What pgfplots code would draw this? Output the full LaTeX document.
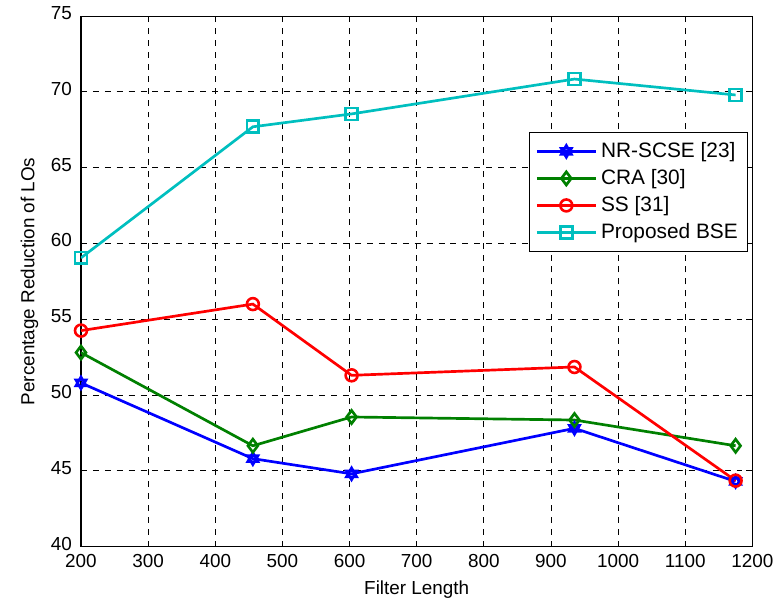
\documentclass[border=0pt]{standalone}
\usepackage{fontspec}
\setmainfont{Liberation Sans}
\usepackage{pgfplots}
\pgfplotsset{compat=1.18}
\usetikzlibrary{plotmarks}

\definecolor{mblue}{rgb}{0,0,1}
\definecolor{mgreen}{rgb}{0,0.5,0}
\definecolor{mred}{rgb}{1,0,0}
\definecolor{mcyan}{rgb}{0,0.75,0.75}

% six-pointed star like matlab's hexagram
\pgfdeclareplotmark{hexagram}{%
  \pgfpathmoveto{\pgfqpointpolar{90}{\pgfplotmarksize}}%
  \pgfpathlineto{\pgfqpointpolar{210}{\pgfplotmarksize}}%
  \pgfpathlineto{\pgfqpointpolar{330}{\pgfplotmarksize}}%
  \pgfpathclose
  \pgfpathmoveto{\pgfqpointpolar{270}{\pgfplotmarksize}}%
  \pgfpathlineto{\pgfqpointpolar{30}{\pgfplotmarksize}}%
  \pgfpathlineto{\pgfqpointpolar{150}{\pgfplotmarksize}}%
  \pgfpathclose
  \pgfusepathqstroke}

\pgfplotsset{mline/.style={line width=1.35pt, every mark/.append style={line width=1.3pt}}}

\begin{document}
\begin{tikzpicture}
\begin{axis}[
    width=338pt, height=267pt,
    scale only axis,
    xmin=200, xmax=1200,
    ymin=40, ymax=75,
    xtick={200,300,...,1200},
    ytick={40,45,...,75},
    grid=major,
    major grid style={dashed, black, line width=0.45pt},
    tick align=inside,
    major tick length=3pt,
    axis line style={line width=0.6pt},
    tick style={black, line width=0.45pt},
    xlabel={Filter Length},
    ylabel={\rule{0pt}{14pt}Percentage Reduction of LOs},
    font=\fontsize{9.5}{11}\selectfont,
    /pgf/number format/assume math mode=true,
    /pgf/number format/1000 sep={},
    xlabel style={yshift=0.5pt},
    ylabel style={yshift=-0.5pt},
    xticklabel style={yshift=-0.5pt},
    yticklabel style={xshift=-1pt, yshift=1.5pt},
    legend style={at={(0.994,0.782)}, anchor=north east,
        draw=black, line width=0.6pt, font=\fontsize{10.5}{12}\selectfont,
        row sep=0.5pt, inner sep=3pt},
    legend cell align=left,
    legend image code/.code={\draw[mark repeat=2,mark phase=2]
        plot coordinates {(0cm,0cm) (0.52cm,0cm) (1.04cm,0cm)};},
    mark size=3pt,
]
\addplot[mblue, mline, mark=hexagram] coordinates {
    (200,50.8) (456,45.8) (603,44.8) (935,47.8) (1175,44.3)};
\addlegendentry{NR-SCSE [23]}
\addplot[mgreen, mline, mark=diamond, mark options={scale=1.1}] coordinates {
    (200,52.8) (456,46.65) (603,48.55) (935,48.35) (1175,46.65)};
\addlegendentry{CRA [30]}
\addplot[mred, mline, mark=o] coordinates {
    (200,54.25) (456,56.0) (603,51.3) (935,51.85) (1175,44.35)};
\addlegendentry{SS [31]}
\addplot[mcyan, mline, mark=square, mark options={scale=1.0}] coordinates {
    (200,59.05) (456,67.7) (603,68.55) (935,70.85) (1175,69.8)};
\addlegendentry{Proposed BSE}
\end{axis}
\end{tikzpicture}
\end{document}
